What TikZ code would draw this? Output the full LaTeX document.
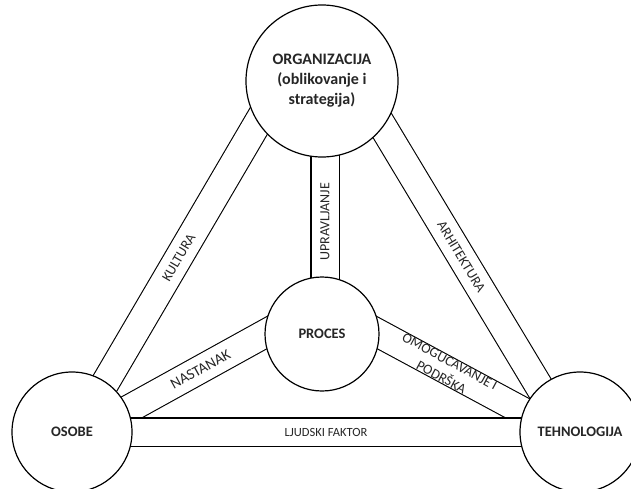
\documentclass[tikz,border=0pt]{standalone}
\usepackage{fontspec}
\setmainfont{Carlito}
\usetikzlibrary{backgrounds}
\tikzset{
  circ/.style={circle, draw, line width=1.2pt, fill=white, align=center, inner sep=0pt,
    text=black!85, font=\bfseries\fontsize{14.5}{17}\selectfont},
  band/.style={draw, line width=1.1pt, double=white, double distance=27pt,
    shorten <=-25pt, shorten >=-25pt},
  lbl/.style={sloped, text=black!85, font=\fontsize{14}{18}\selectfont}
}
\begin{document}
\begin{tikzpicture}[x=1pt,y=1pt]
\useasboundingbox (0,0) rectangle (631,488);
\node[circ, minimum size=152pt, font=\bfseries\fontsize{16}{20}\selectfont] (org) at (322,407) {ORGANIZACIJA\\(oblikovanje i\\strategija)};
\node[circ, minimum size=120pt] (osobe) at (72,56) {OSOBE};
\node[circ, minimum size=114pt] (proces) at (322,154) {PROCES};
\node[circ, minimum size=120pt] (tehnologija) at (580,56) {TEHNOLOGIJA};
\begin{scope}[on background layer]
\draw[band] (osobe.56) -- node[lbl, pos=.48] {KULTURA} (org.213);
\draw[band] (org.323) -- node[lbl, pos=.5] {ARHITEKTURA} (tehnologija.132);
\draw[band] ([xshift=3pt]proces.north) -- node[lbl, pos=.46] {UPRAVLJANJE} ([xshift=3pt]org.south);
\draw[band] (osobe.22) -- node[lbl, pos=.53, font=\fontsize{15}{18}\selectfont] {NASTANAK} (proces.west);
\draw[band] (proces.east) -- node[lbl, pos=.46, align=center] {OMOGUCAVANJE I\\PODRŠKA} (tehnologija.160);
\draw[band] (osobe.east) -- node[lbl, pos=.5, font=\fontsize{12.5}{15}\selectfont] {LJUDSKI FAKTOR} (tehnologija.west);
\end{scope}
\end{tikzpicture}
\end{document}
